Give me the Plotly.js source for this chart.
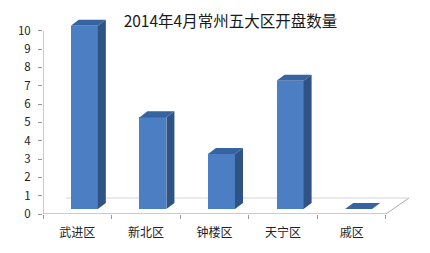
<!DOCTYPE html>
<html>
<head>
<meta charset="utf-8">
<script src="https://cdn.plot.ly/plotly-3.0.1.min.js"></script>
<style>html,body{margin:0;padding:0;background:#fff;}#chart{width:430px;height:253px;}</style>
</head>
<body>
<div id="chart"></div>
<script>
// ---- data ----
const categories = ['武进区', '新北区', '钟楼区', '天宁区', '戚区'];
const values = [10, 5, 3, 7, 0];
const yTickVals = [0, 1, 2, 3, 4, 5, 6, 7, 8, 9, 10];
const chartTitle = '2014年4月常州五大区开盘数量';

// ---- 3D styling geometry (axis units) ----
const barW = 0.394;      // bar front width (category units)
const frontShift = 0.102; // bar front face shift right
const baseLift = 0.273;   // bar front face lifted off the floor (y units)
const depX = 0.117, depY = 0.33;       // bar depth
const floorX = 0.336, floorY = 0.874;  // floor depth

const xs = categories.map((c, i) => i);
const offset = frontShift - barW / 2;

const topX = [], topY = [], sideX = [], sideY = [];
values.forEach((v, i) => {
  const L = i + offset, R = L + barW, b = baseLift, t = v + baseLift;
  topX.push(L, R, R + depX, L + depX, L, null);
  topY.push(t, t, t + depY, t + depY, t, null);
  sideX.push(R, R + depX, R + depX, R, R, null);
  sideY.push(b, b + depY, t + depY, t, b, null);
});

const traces = [
  {type: 'scatter', x: sideX, y: sideY, mode: 'lines', fill: 'toself',
   fillcolor: '#2f5385', line: {width: 0, color: '#2f5385'}, hoverinfo: 'skip', showlegend: false},
  {type: 'scatter', x: topX, y: topY, mode: 'lines', fill: 'toself',
   fillcolor: '#3763a0', line: {width: 0, color: '#3763a0'}, hoverinfo: 'skip', showlegend: false},
  {type: 'bar', x: xs, y: values, base: baseLift, width: barW, offset: offset,
   marker: {color: '#4b7ec3', line: {width: 0}}, showlegend: false}
];

const nCat = categories.length;
const xMax = nCat - 0.5 + floorX;
const yMax = 10.7;
const boundaries = [];
for (let i = 0; i <= nCat; i++) boundaries.push(i - 0.5);

const layout = {
  width: 430, height: 253,
  margin: {l: 43, r: 430 - 43 - 68.6 * (xMax + 0.5), t: 18, b: 39},
  paper_bgcolor: '#ffffff', plot_bgcolor: '#ffffff',
  font: {family: '"Noto Sans CJK SC", "Noto Sans", sans-serif', color: '#222'},
  title: {text: chartTitle, x: 0.512, xanchor: 'center', xref: 'paper',
          y: 1 - 22 / 253, yanchor: 'middle', yref: 'container',
          font: {size: 15.5, color: '#1a1a1a'}},
  xaxis: {range: [-0.5, xMax], tickmode: 'array', tickvals: xs, ticktext: categories,
          ticks: '', showgrid: false, zeroline: false, showline: false,
          tickfont: {size: 12, color: '#222'}, ticklabelstandoff: 10,
          minor: {tickmode: 'array', tickvals: boundaries, ticks: 'outside', ticklen: 4,
                  tickcolor: '#999', tickwidth: 1, showgrid: false},
          fixedrange: true},
  yaxis: {range: [0, yMax], tickmode: 'array', tickvals: yTickVals,
          ticks: 'outside', ticklen: 4, tickcolor: '#999', tickwidth: 1,
          showgrid: false, zeroline: false, showline: false,
          tickfont: {size: 11.5, color: '#222'}, ticklabelstandoff: 5,
          fixedrange: true},
  shapes: [
    // y axis line
    {type: 'line', xref: 'x', yref: 'y', x0: -0.5, x1: -0.5, y0: 0, y1: 10,
     line: {color: '#999', width: 1}, layer: 'below'},
    // x axis (floor front edge)
    {type: 'line', xref: 'x', yref: 'y', x0: -0.5, x1: nCat - 0.5, y0: 0, y1: 0,
     line: {color: '#999', width: 1}, layer: 'below'},
    // floor right edge
    {type: 'line', xref: 'x', yref: 'y', x0: nCat - 0.5, x1: xMax, y0: 0, y1: floorY,
     line: {color: '#aaa', width: 1}, layer: 'below'},
    // floor back edge
    {type: 'line', xref: 'x', yref: 'y', x0: -0.5 + floorX, x1: xMax, y0: floorY, y1: floorY,
     line: {color: '#d4d4d4', width: 1}, layer: 'below'}
  ],
  bargap: 0
};

Plotly.newPlot('chart', traces, layout, {displayModeBar: false, staticPlot: true});
</script>
</body>
</html>
